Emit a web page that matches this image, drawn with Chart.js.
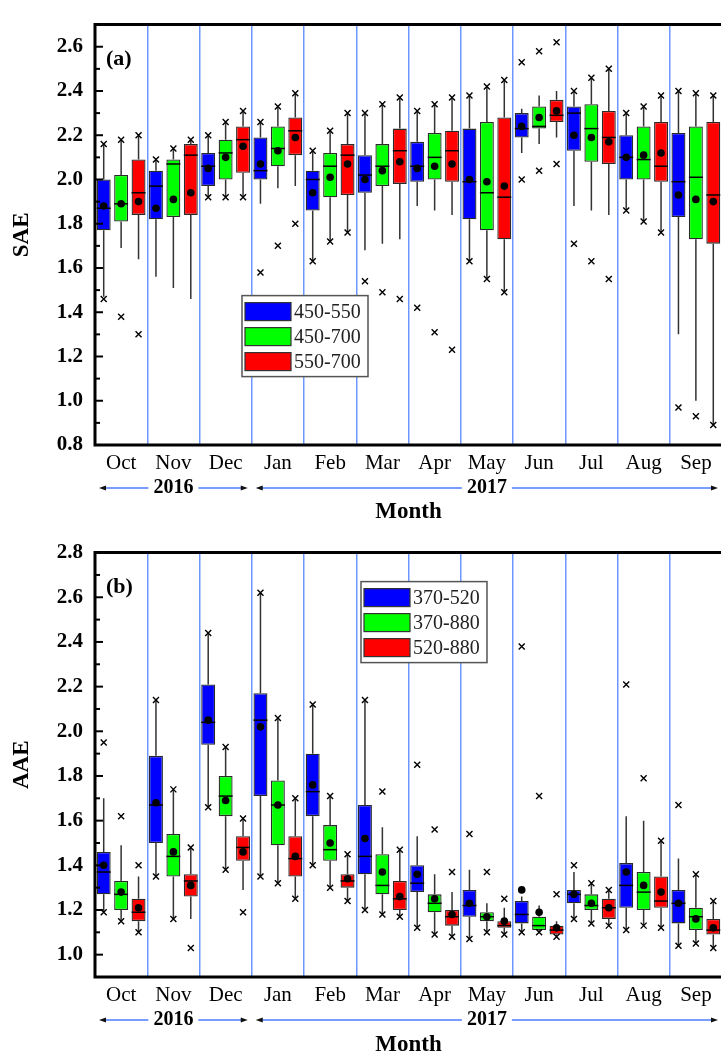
<!DOCTYPE html>
<html>
<head>
<meta charset="utf-8">
<script src="https://cdn.jsdelivr.net/npm/chart.js@4.4.1/dist/chart.umd.min.js"></script>
<style>
  html, body { margin: 0; padding: 0; background: #fff; overflow: hidden; width: 721px; height: 1055px; }
  .panel { position: absolute; left: 0; width: 740px; }
  #panel-a { top: 0; height: 528px; }
  #panel-b { top: 528px; height: 527px; }
</style>
</head>
<body>
<div class="panel" id="panel-a"><canvas id="saeChart"></canvas></div>
<div class="panel" id="panel-b"><canvas id="aaeChart"></canvas></div>
<script>
const months = ["Oct", "Nov", "Dec", "Jan", "Feb", "Mar", "Apr", "May", "Jun", "Jul", "Aug", "Sep"];
const years = ["2016", "2017"];
const yearFirstMonth = [0, 3];
const yearLastMonth = [2, 11];

const saeTicks = [0.8, 1.0, 1.2, 1.4, 1.6, 1.8, 2.0, 2.2, 2.4, 2.6];
const aaeTicks = [1.0, 1.2, 1.4, 1.6, 1.8, 2.0, 2.2, 2.4, 2.6, 2.8];

const saeNames = ["450-550", "450-700", "550-700"];
const aaeNames = ["370-520", "370-880", "520-880"];
const boxColors = ["#0000ff", "#00ff00", "#ff0000"];

// (a) SAE 450-550
const sae1Q1 = [1.77, 1.82, 1.97, 2.00, 1.86, 1.94, 1.99, 1.82, 2.19, 2.13, 2.00, 1.83];
const sae1Q3 = [2.00, 2.04, 2.12, 2.19, 2.04, 2.11, 2.17, 2.23, 2.30, 2.33, 2.20, 2.21];
const sae1Med = [1.87, 1.97, 2.06, 2.04, 2.00, 2.02, 2.06, 1.99, 2.23, 2.30, 2.10, 1.99];
const sae1Mean = [1.88, 1.87, 2.05, 2.07, 1.94, 2.00, 2.05, 2.00, 2.24, 2.20, 2.10, 1.93];
const sae1Lo = [1.47, 1.56, 1.92, 1.89, 1.63, 1.68, 1.88, 1.63, 2.12, 1.88, 1.86, 1.30];
const sae1Hi = [2.16, 2.09, 2.20, 2.26, 2.13, 2.30, 2.31, 2.38, 2.32, 2.40, 2.30, 2.40];
const sae1XLo = [1.46, null, 1.92, 1.58, 1.63, 1.54, 1.42, 1.63, 2.00, 1.71, 1.86, 0.97];
const sae1XHi = [2.16, 2.09, 2.20, 2.26, 2.13, 2.30, 2.31, 2.38, 2.53, 2.40, 2.30, 2.40];

// (a) SAE 450-700
const sae2Q1 = [1.81, 1.83, 2.00, 2.06, 1.92, 1.97, 2.00, 1.77, 2.23, 2.08, 2.00, 1.73];
const sae2Q3 = [2.02, 2.09, 2.18, 2.24, 2.12, 2.16, 2.21, 2.26, 2.33, 2.34, 2.24, 2.24];
const sae2Med = [1.89, 2.07, 2.12, 2.14, 2.06, 2.06, 2.10, 1.94, 2.24, 2.23, 2.09, 2.01];
const sae2Mean = [1.89, 1.91, 2.10, 2.13, 2.01, 2.04, 2.06, 1.99, 2.28, 2.19, 2.11, 1.91];
const sae2Lo = [1.69, 1.51, 1.92, 1.96, 1.72, 1.71, 1.86, 1.55, 2.16, 1.86, 1.81, 1.00];
const sae2Hi = [2.18, 2.14, 2.26, 2.33, 2.22, 2.34, 2.34, 2.42, 2.38, 2.46, 2.33, 2.39];
const sae2XLo = [1.38, null, 1.92, 1.70, 1.72, 1.49, 1.31, 1.55, 2.04, 1.63, 1.81, 0.93];
const sae2XHi = [2.18, 2.14, 2.26, 2.33, 2.22, 2.34, 2.34, 2.42, 2.58, 2.46, 2.33, 2.39];

// (a) SAE 550-700
const sae3Q1 = [1.84, 1.84, 2.03, 2.11, 1.93, 1.98, 1.99, 1.73, 2.26, 2.07, 1.99, 1.71];
const sae3Q3 = [2.09, 2.16, 2.24, 2.28, 2.16, 2.23, 2.22, 2.28, 2.36, 2.31, 2.26, 2.26];
const sae3Med = [1.94, 2.11, 2.18, 2.22, 2.11, 2.13, 2.13, 1.92, 2.29, 2.19, 2.06, 1.93];
const sae3Mean = [1.90, 1.94, 2.15, 2.19, 2.07, 2.08, 2.07, 1.97, 2.31, 2.17, 2.12, 1.90];
const sae3Lo = [1.64, 1.46, 1.92, 1.97, 1.76, 1.73, 1.84, 1.49, 2.19, 1.84, 1.76, 0.89];
const sae3Hi = [2.20, 2.18, 2.31, 2.39, 2.30, 2.37, 2.37, 2.45, 2.40, 2.50, 2.38, 2.38];
const sae3XLo = [1.30, null, 1.92, 1.80, 1.76, 1.46, 1.23, 1.49, 2.07, 1.55, 1.76, 0.89];
const sae3XHi = [2.20, 2.18, 2.31, 2.39, 2.30, 2.37, 2.37, 2.45, 2.62, 2.50, 2.38, 2.38];

// (b) AAE 370-520
const aae1Q1 = [1.27, 1.50, 1.94, 1.71, 1.62, 1.36, 1.28, 1.17, 1.14, 1.23, 1.21, 1.14];
const aae1Q3 = [1.46, 1.89, 2.21, 2.17, 1.90, 1.67, 1.40, 1.29, 1.24, 1.29, 1.41, 1.29];
const aae1Med = [1.37, 1.67, 2.04, 2.05, 1.73, 1.44, 1.32, 1.22, 1.18, 1.27, 1.31, 1.23];
const aae1Mean = [1.40, 1.68, 2.05, 2.02, 1.76, 1.52, 1.36, 1.23, 1.29, 1.27, 1.37, 1.23];
const aae1Lo = [1.19, 1.35, 1.66, 1.35, 1.40, 1.20, 1.12, 1.07, 1.10, 1.16, 1.11, 1.04];
const aae1Hi = [1.70, 2.14, 2.44, 2.62, 2.12, 2.14, 1.53, 1.38, 1.26, 1.37, 1.62, 1.43];
const aae1XLo = [1.19, 1.35, 1.66, 1.35, 1.40, 1.20, 1.12, 1.07, 1.10, 1.16, 1.11, 1.04];
const aae1XHi = [1.95, 2.14, 2.44, 2.62, 2.12, 2.14, 1.85, 1.54, 2.38, 1.40, 2.21, 1.67];

// (b) AAE 370-880
const aae2Q1 = [1.20, 1.35, 1.62, 1.49, 1.42, 1.27, 1.19, 1.15, 1.11, 1.20, 1.20, 1.11];
const aae2Q3 = [1.33, 1.54, 1.80, 1.78, 1.58, 1.45, 1.27, 1.19, 1.17, 1.27, 1.37, 1.21];
const aae2Med = [1.27, 1.44, 1.71, 1.67, 1.47, 1.31, 1.23, 1.17, 1.13, 1.22, 1.28, 1.17];
const aae2Mean = [1.28, 1.46, 1.69, 1.67, 1.50, 1.37, 1.25, 1.17, 1.19, 1.23, 1.31, 1.16];
const aae2Lo = [1.15, 1.16, 1.38, 1.32, 1.30, 1.18, 1.09, 1.10, 1.10, 1.14, 1.13, 1.05];
const aae2Hi = [1.49, 1.74, 1.93, 2.06, 1.71, 1.57, 1.36, 1.23, 1.22, 1.32, 1.60, 1.36];
const aae2XLo = [1.15, 1.16, 1.38, 1.32, 1.30, 1.18, 1.09, 1.10, 1.10, 1.14, 1.13, 1.05];
const aae2XHi = [1.62, 1.74, 1.93, 2.06, 1.71, 1.73, 1.56, 1.37, 1.71, 1.32, 1.79, 1.36];

// (b) AAE 520-880
const aae3Q1 = [1.15, 1.26, 1.42, 1.35, 1.30, 1.20, 1.13, 1.12, 1.09, 1.16, 1.21, 1.09];
const aae3Q3 = [1.25, 1.36, 1.53, 1.53, 1.36, 1.33, 1.20, 1.15, 1.13, 1.25, 1.35, 1.16];
const aae3Med = [1.19, 1.33, 1.48, 1.43, 1.33, 1.25, 1.17, 1.13, 1.11, 1.21, 1.24, 1.11];
const aae3Mean = [1.21, 1.31, 1.46, 1.44, 1.34, 1.26, 1.18, 1.15, 1.12, 1.21, 1.28, 1.12];
const aae3Lo = [1.10, 1.16, 1.29, 1.25, 1.24, 1.17, 1.08, 1.09, 1.08, 1.13, 1.12, 1.03];
const aae3Hi = [1.35, 1.48, 1.61, 1.70, 1.45, 1.47, 1.28, 1.21, 1.15, 1.29, 1.51, 1.24];
const aae3XLo = [1.10, 1.03, 1.19, 1.25, 1.24, 1.17, 1.08, 1.09, 1.08, 1.13, 1.12, 1.03];
const aae3XHi = [1.40, 1.48, 1.61, 1.70, 1.45, 1.47, 1.37, 1.25, 1.27, 1.29, 1.51, 1.24];

const SERIF = '"Times New Roman", "Liberation Serif", serif';

function boxDataset(name, color, q1, q3, med, mean, lo, hi, xLo, xHi) {
    return {
        label: name,
        data: q1.map((v, i) => [v, q3[i]]),
        backgroundColor: color,
        borderColor: "#2a2a2a",
        borderWidth: 1.3,
        borderSkipped: false,
        barPercentage: 0.8,
        categoryPercentage: 1.0,
        stats: { med, mean, lo, hi, xLo, xHi },
    };
}

// whiskers, medians, means and the x marks, placed on each bar
const boxExtras = {
    id: "boxExtras",
    afterDatasetsDraw(chart) {
        const ctx = chart.ctx;
        const ys = chart.scales.y;
        chart.data.datasets.forEach((ds, di) => {
            const s = ds.stats;
            chart.getDatasetMeta(di).data.forEach((bar, i) => {
                const x = bar.x;
                const hw = bar.width / 2;
                ctx.save();
                ctx.strokeStyle = "#333";
                ctx.lineWidth = 1.5;
                ctx.beginPath();
                ctx.moveTo(x, ys.getPixelForValue(ds.data[i][1]));
                ctx.lineTo(x, ys.getPixelForValue(s.hi[i]));
                ctx.moveTo(x, ys.getPixelForValue(ds.data[i][0]));
                ctx.lineTo(x, ys.getPixelForValue(s.lo[i]));
                ctx.stroke();

                const ym = ys.getPixelForValue(s.med[i]);
                ctx.strokeStyle = "#000";
                ctx.beginPath();
                ctx.moveTo(x - hw, ym);
                ctx.lineTo(x + hw, ym);
                ctx.stroke();

                ctx.fillStyle = "#000";
                ctx.beginPath();
                ctx.arc(x, ys.getPixelForValue(s.mean[i]), 3.8, 0, Math.PI * 2);
                ctx.fill();

                ctx.lineWidth = 1.4;
                [s.xLo[i], s.xHi[i]].forEach((v) => {
                    if (v == null) return;
                    const yy = ys.getPixelForValue(v);
                    ctx.beginPath();
                    ctx.moveTo(x - 3, yy - 3);
                    ctx.lineTo(x + 3, yy + 3);
                    ctx.moveTo(x + 3, yy - 3);
                    ctx.lineTo(x - 3, yy + 3);
                    ctx.stroke();
                });
                ctx.restore();
            });
        });
    },
};

// frame, inward ticks, panel tag, year row and legend box
const decor = {
    id: "decor",
    afterDraw(chart, args, opts) {
        const ctx = chart.ctx;
        const ca = chart.chartArea;
        const xs = chart.scales.x;
        const ys = chart.scales.y;
        ctx.save();

        ctx.strokeStyle = "#000";
        ctx.lineWidth = 3;
        ctx.beginPath();
        ctx.moveTo(ca.right + 5, ca.top);
        ctx.lineTo(ca.left, ca.top);
        ctx.lineTo(ca.left, ca.bottom);
        ctx.lineTo(ca.right + 5, ca.bottom);
        ctx.stroke();

        ctx.lineWidth = 2;
        for (let k = Math.round(ys.min * 10); k <= Math.round(ys.max * 10); k++) {
            const y = ys.getPixelForValue(k / 10);
            const len = k % 2 === 0 ? 8 : 5;
            ctx.beginPath();
            ctx.moveTo(ca.left, y);
            ctx.lineTo(ca.left + len, y);
            ctx.stroke();
        }

        ctx.fillStyle = "#000";
        ctx.font = "bold 22px " + SERIF;
        ctx.textAlign = "left";
        ctx.textBaseline = "alphabetic";
        ctx.fillText(opts.tag, ca.left + 11, ca.top + 40);

        // year spans under the month labels
        const half = (xs.getPixelForValue(1) - xs.getPixelForValue(0)) / 2;
        const yy = ca.bottom + 43;
        ctx.font = "bold 20px " + SERIF;
        ctx.textAlign = "center";
        ctx.textBaseline = "middle";
        years.forEach((yr, i) => {
            const x0 = xs.getPixelForValue(yearFirstMonth[i]) - half + 4;
            const x1 = xs.getPixelForValue(yearLastMonth[i]) + half - 4;
            const xc = (x0 + x1) / 2;
            const tw = ctx.measureText(yr).width / 2 + 5;
            ctx.fillStyle = "#000";
            ctx.fillText(yr, xc, yy);
            ctx.strokeStyle = "#4d7dff";
            ctx.lineWidth = 1.5;
            ctx.beginPath();
            ctx.moveTo(x0 + 4, yy);
            ctx.lineTo(xc - tw, yy);
            ctx.moveTo(xc + tw, yy);
            ctx.lineTo(x1 - 4, yy);
            ctx.stroke();
            ctx.fillStyle = "#111";
            ctx.beginPath();
            ctx.moveTo(x0, yy);
            ctx.lineTo(x0 + 7, yy - 2.5);
            ctx.lineTo(x0 + 7, yy + 2.5);
            ctx.closePath();
            ctx.moveTo(x1, yy);
            ctx.lineTo(x1 - 7, yy - 2.5);
            ctx.lineTo(x1 - 7, yy + 2.5);
            ctx.closePath();
            ctx.fill();
        });

        // legend
        const bx = ca.left + opts.legendX;
        const by = ca.top + opts.legendY;
        ctx.fillStyle = "#fff";
        ctx.fillRect(bx, by, 126, 81);
        ctx.strokeStyle = "#555";
        ctx.lineWidth = 1.5;
        ctx.strokeRect(bx, by, 126, 81);
        ctx.font = "20px " + SERIF;
        ctx.textAlign = "left";
        chart.data.datasets.forEach((ds, i) => {
            const ry = by + 7 + i * 25;
            ctx.fillStyle = ds.backgroundColor;
            ctx.fillRect(bx + 3, ry, 46, 18);
            ctx.strokeStyle = "#333";
            ctx.lineWidth = 1.2;
            ctx.strokeRect(bx + 3, ry, 46, 18);
            ctx.fillStyle = "#222";
            ctx.fillText(ds.label, bx + 52, ry + 10);
        });
        ctx.restore();
    },
};

function makeChart(canvasId, cfg) {
    const ctx = document.getElementById(canvasId).getContext("2d");
    return new Chart(ctx, {
        type: "bar",
        data: { labels: months, datasets: cfg.datasets },
        plugins: [boxExtras, decor],
        options: {
            responsive: true,
            maintainAspectRatio: false,
            animation: false,
            layout: { padding: { top: cfg.padTop, right: 18, left: 0, bottom: 0 } },
            plugins: {
                legend: { display: false },
                tooltip: { enabled: false },
                decor: { tag: cfg.tag, legendX: cfg.legendX, legendY: cfg.legendY },
            },
            scales: {
                x: {
                    offset: true,
                    afterFit: (s) => { s.height = cfg.xHeight; },
                    grid: { offset: true, color: "#6c97ff", lineWidth: 1.5, drawTicks: false },
                    border: { display: false },
                    ticks: { color: "#000", padding: 6, font: { family: SERIF, size: 21 } },
                    title: {
                        display: true,
                        text: "Month",
                        color: "#000",
                        font: { family: SERIF, size: 23, weight: "bold", lineHeight: 0.8 },
                        padding: { top: 0, bottom: cfg.titlePad },
                    },
                },
                y: {
                    min: cfg.yMin,
                    max: cfg.yMax,
                    afterFit: (s) => { s.width = 95; },
                    afterBuildTicks: (s) => { s.ticks = cfg.ticks.map((v) => ({ value: v })); },
                    grid: { display: false, drawTicks: false },
                    border: { display: false },
                    ticks: {
                        color: "#000",
                        padding: 12,
                        font: { family: SERIF, size: 21, weight: "bold" },
                        callback: (v) => Number(v).toFixed(1),
                    },
                    title: {
                        display: true,
                        text: cfg.yTitle,
                        color: "#000",
                        font: { family: SERIF, size: 23, weight: "bold" },
                        padding: { top: 8, bottom: 0 },
                    },
                },
            },
        },
    });
}

document.addEventListener("DOMContentLoaded", () => {
    makeChart("saeChart", {
        tag: "(a)",
        yTitle: "SAE",
        yMin: 0.8,
        yMax: 2.7,
        ticks: saeTicks,
        padTop: 16,
        xHeight: 83,
        titlePad: 7,
        legendX: 147,
        legendY: 271,
        datasets: [
            boxDataset(saeNames[0], boxColors[0], sae1Q1, sae1Q3, sae1Med, sae1Mean, sae1Lo, sae1Hi, sae1XLo, sae1XHi),
            boxDataset(saeNames[1], boxColors[1], sae2Q1, sae2Q3, sae2Med, sae2Mean, sae2Lo, sae2Hi, sae2XLo, sae2XHi),
            boxDataset(saeNames[2], boxColors[2], sae3Q1, sae3Q3, sae3Med, sae3Mean, sae3Lo, sae3Hi, sae3XLo, sae3XHi),
        ],
    });
    makeChart("aaeChart", {
        tag: "(b)",
        yTitle: "AAE",
        yMin: 0.9,
        yMax: 2.8,
        ticks: aaeTicks,
        padTop: 22,
        xHeight: 78,
        titlePad: 1,
        legendX: 266,
        legendY: 29,
        datasets: [
            boxDataset(aaeNames[0], boxColors[0], aae1Q1, aae1Q3, aae1Med, aae1Mean, aae1Lo, aae1Hi, aae1XLo, aae1XHi),
            boxDataset(aaeNames[1], boxColors[1], aae2Q1, aae2Q3, aae2Med, aae2Mean, aae2Lo, aae2Hi, aae2XLo, aae2XHi),
            boxDataset(aaeNames[2], boxColors[2], aae3Q1, aae3Q3, aae3Med, aae3Mean, aae3Lo, aae3Hi, aae3XLo, aae3XHi),
        ],
    });
});
</script>
</body>
</html>
